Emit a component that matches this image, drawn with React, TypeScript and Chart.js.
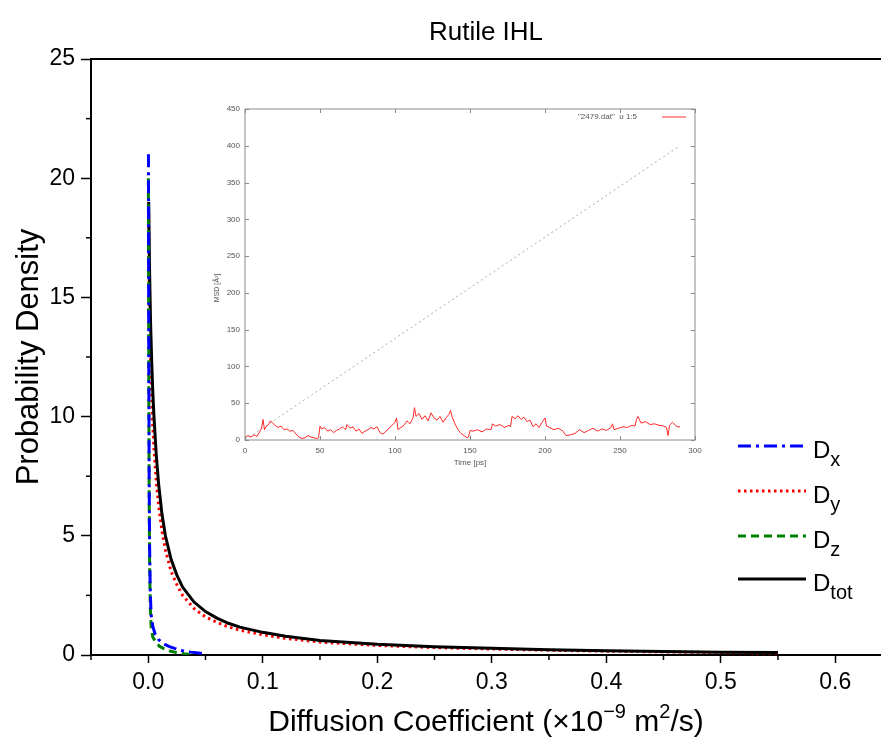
import { useEffect, useRef } from 'react';
import { Chart, registerables } from 'chart.js';
Chart.register(...registerables);

const FONT = '"Liberation Sans", Arial, Helvetica, sans-serif';

// ---- Main chart data (probability density vs diffusion coefficient) ----
const dxX = [0.0002, 0.0003, 0.0005, 0.0008, 0.0012, 0.0018, 0.0025, 0.004, 0.006, 0.009, 0.013, 0.018, 0.023, 0.03, 0.037, 0.044, 0.05];
const dxY = [21.0, 17.0, 12.0, 7.5, 4.5, 2.6, 1.7, 1.2, 0.88, 0.65, 0.48, 0.36, 0.28, 0.18, 0.12, 0.08, 0.05];

const dyX = [0.0004, 0.001, 0.002, 0.003, 0.004, 0.005, 0.007, 0.009, 0.012, 0.015, 0.02, 0.025, 0.03, 0.04, 0.05, 0.06, 0.07, 0.08, 0.1, 0.12, 0.15, 0.2, 0.25, 0.3, 0.35, 0.4, 0.45, 0.5, 0.55];
const dyY = [18.5, 15.0, 12.5, 10.8, 9.6, 8.7, 7.3, 6.3, 5.2, 4.4, 3.5, 2.95, 2.5, 1.95, 1.6, 1.37, 1.18, 1.04, 0.85, 0.7, 0.54, 0.4, 0.31, 0.25, 0.2, 0.16, 0.13, 0.1, 0.08];

const dzX = [0.0001, 0.0003, 0.0005, 0.0008, 0.0012, 0.0018, 0.0025, 0.004, 0.007, 0.01, 0.014, 0.019, 0.025, 0.031, 0.037];
const dzY = [20.0, 16.0, 11.0, 6.5, 3.8, 2.0, 1.2, 0.75, 0.5, 0.36, 0.26, 0.17, 0.1, 0.05, 0.02];

const dtotX = [0.0004, 0.001, 0.002, 0.003, 0.004, 0.005, 0.007, 0.009, 0.012, 0.015, 0.02, 0.025, 0.03, 0.04, 0.05, 0.06, 0.07, 0.08, 0.1, 0.12, 0.15, 0.2, 0.25, 0.3, 0.35, 0.4, 0.45, 0.5, 0.55];
const dtotY = [19.0, 16.5, 14.0, 12.3, 11.0, 10.0, 8.4, 7.2, 5.9, 5.0, 4.0, 3.35, 2.85, 2.22, 1.82, 1.55, 1.33, 1.17, 0.95, 0.79, 0.61, 0.45, 0.35, 0.28, 0.22, 0.18, 0.15, 0.12, 0.1];

const xMajorTicks = [0, 0.1, 0.2, 0.3, 0.4, 0.5, 0.6];
const xMinorTicks = [-0.05, 0.05, 0.15, 0.25, 0.35, 0.45, 0.55];
const yMajorTicks = [0, 5, 10, 15, 20, 25];
const yMinorTicks = [2.5, 7.5, 12.5, 17.5, 22.5];
const legendSubs = ['x', 'y', 'z', 'tot'];

// ---- Inset data (MSD vs time) ----
const msdTime = [
  0, 2, 4, 6, 8, 10, 11, 12, 13, 14,
  16, 17, 18, 20, 22, 24, 26, 28, 30, 32,
  34, 36, 38, 40, 42, 44, 46, 48, 49, 50,
  51, 53, 55, 57, 59, 61, 63, 65, 67, 68,
  70, 72, 74, 76, 78, 80, 82, 84, 86, 88,
  90, 92, 94, 96, 98, 100, 101, 102, 104, 106,
  108, 110, 112, 113, 114, 116, 118, 120, 122, 124,
  126, 128, 130, 132, 134, 136, 137, 138, 140, 142,
  144, 146, 148, 149, 150, 152, 155, 158, 161, 164,
  165, 167, 170, 173, 176, 177, 178, 180, 182, 184,
  186, 188, 190, 192, 194, 196, 198, 200, 201, 203,
  206, 209, 212, 214, 217, 220, 223, 226, 229, 232,
  235, 238, 241, 244, 245, 246, 249, 252, 255, 258,
  260, 261, 262, 264, 267, 270, 273, 276, 279, 281,
  282, 283, 285, 286, 288, 290,
];
const msdValue = [
  3, 6, 4, 7, 5, 12, 16, 28, 14, 18,
  22, 26, 24, 20, 17, 19, 14, 15, 12, 13,
  8, 4, 2, 3, 6, 4, 3, 2, 3, 19,
  15, 17, 12, 14, 10, 13, 15, 18, 14, 21,
  16, 18, 12, 15, 9, 12, 14, 17, 15, 18,
  10, 8, 12, 16, 20, 24, 30, 14, 17, 20,
  26, 22, 30, 44, 32, 36, 28, 33, 26, 37,
  30, 27, 32, 24, 30, 35, 40, 32, 22, 14,
  9, 6, 3, 4, 13, 12, 14, 11, 15, 14,
  22, 19, 21, 17, 20, 18, 32, 29, 33, 28,
  31, 25, 27, 18, 22, 17, 24, 30, 19, 17,
  14, 16, 12, 6, 7, 9, 14, 10, 13, 16,
  12, 15, 13, 17, 22, 14, 16, 18, 17, 20,
  19, 28, 32, 23, 25, 21, 22, 20, 19, 17,
  6, 20, 24, 22, 18, 18,
];
const guideTime = [0, 290];
const guideValue = [0, 400];
const insetXTicks = [0, 50, 100, 150, 200, 250, 300];
const insetYTicks = [0, 50, 100, 150, 200, 250, 300, 350, 400, 450];

const toPts = (xs: number[], ys: number[]) => xs.map((x, i) => ({ x, y: ys[i] }));

export default function App() {
  const mainRef = useRef<HTMLCanvasElement>(null);
  const insetRef = useRef<HTMLCanvasElement>(null);

  useEffect(() => {
    const mainDecor = {
      id: 'mainDecor',
      afterDraw(chart: any) {
        const ctx = chart.ctx;
        const ca = chart.chartArea;
        const xs = chart.scales.x;
        const ys = chart.scales.y;
        ctx.save();
        // top border
        ctx.strokeStyle = '#000';
        ctx.lineWidth = 2;
        ctx.beginPath();
        ctx.moveTo(ca.left - 1, ca.top);
        ctx.lineTo(ca.right, ca.top);
        ctx.stroke();
        // minor ticks
        ctx.lineWidth = 1.5;
        xMinorTicks.forEach((v) => {
          const px = xs.getPixelForValue(v);
          ctx.beginPath();
          ctx.moveTo(px, ca.bottom);
          ctx.lineTo(px, ca.bottom + 5);
          ctx.stroke();
        });
        yMinorTicks.forEach((v) => {
          const py = ys.getPixelForValue(v);
          ctx.beginPath();
          ctx.moveTo(ca.left, py);
          ctx.lineTo(ca.left - 5, py);
          ctx.stroke();
        });
        // title
        ctx.fillStyle = '#000';
        ctx.textAlign = 'center';
        ctx.textBaseline = 'alphabetic';
        ctx.font = `26px ${FONT}`;
        ctx.fillText('Rutile IHL', (ca.left + ca.right) / 2, 40);
        // x axis title with superscripts
        const big = `30px ${FONT}`;
        const sup = `20px ${FONT}`;
        const parts: [string, string, number][] = [
          ['Diffusion Coefficient (\u00d710', big, 0],
          ['\u22129', sup, -13],
          [' m', big, 0],
          ['2', sup, -13],
          ['/s)', big, 0],
        ];
        let total = 0;
        parts.forEach(([t, f]) => { ctx.font = f; total += ctx.measureText(t).width; });
        let cx = (ca.left + ca.right) / 2 - total / 2;
        ctx.textAlign = 'left';
        parts.forEach(([t, f, dy]) => {
          ctx.font = f;
          ctx.fillText(t, cx, 731 + dy);
          cx += ctx.measureText(t).width;
        });
        // y axis title
        ctx.save();
        ctx.translate(38, (ca.top + ca.bottom) / 2);
        ctx.rotate(-Math.PI / 2);
        ctx.textAlign = 'center';
        ctx.font = `31px ${FONT}`;
        ctx.fillText('Probability Density', 0, 0);
        ctx.restore();
        // legend
        const rows = [446, 491, 536, 579];
        const ds = chart.data.datasets;
        rows.forEach((ry, i) => {
          const d = ds[i];
          ctx.save();
          ctx.strokeStyle = d.borderColor;
          ctx.lineWidth = d.borderWidth;
          ctx.setLineDash(d.borderDash || []);
          ctx.beginPath();
          ctx.moveTo(738, ry);
          ctx.lineTo(806, ry);
          ctx.stroke();
          ctx.restore();
          ctx.fillStyle = '#000';
          ctx.textAlign = 'left';
          ctx.font = `24px ${FONT}`;
          ctx.fillText('D', 813, ry + 12);
          const w = ctx.measureText('D').width;
          ctx.font = `20px ${FONT}`;
          ctx.fillText(legendSubs[i], 813 + w, ry + 20);
        });
        ctx.restore();
      },
    };

    const main = new Chart(mainRef.current!, {
      type: 'scatter',
      data: {
        datasets: [
          { label: 'Dx', data: toPts(dxX, dxY), showLine: true, borderColor: '#0000ff', borderWidth: 3, borderDash: [13, 5, 3, 5], pointRadius: 0, order: 0 },
          { label: 'Dy', data: toPts(dyX, dyY), showLine: true, borderColor: '#ff0000', borderWidth: 3, borderDash: [2.5, 3.5], pointRadius: 0, order: 3 },
          { label: 'Dz', data: toPts(dzX, dzY), showLine: true, borderColor: '#008000', borderWidth: 3, borderDash: [8, 5], pointRadius: 0, order: 1 },
          { label: 'Dtot', data: toPts(dtotX, dtotY), showLine: true, borderColor: '#000000', borderWidth: 3, pointRadius: 0, order: 2 },
        ],
      },
      options: {
        responsive: false,
        animation: false,
        layout: { padding: { top: 59, left: 0, right: 0, bottom: 0 } },
        plugins: { legend: { display: false }, tooltip: { enabled: false }, title: { display: false } },
        scales: {
          x: {
            type: 'linear',
            min: -0.05,
            max: 0.64,
            afterBuildTicks: (s: any) => { s.ticks = xMajorTicks.map((v) => ({ value: v })); },
            afterFit: (s: any) => { s.height = 87; },
            grid: { display: true, drawOnChartArea: false, drawTicks: true, tickLength: 8, tickColor: '#000', tickWidth: 1.5 },
            border: { display: true, color: '#000', width: 2 },
            ticks: { color: '#000', font: { family: FONT, size: 23 }, padding: 6, maxRotation: 0, autoSkip: false, callback: (v: any) => Number(v).toFixed(1) },
          },
          y: {
            type: 'linear',
            min: 0,
            max: 25,
            afterBuildTicks: (s: any) => { s.ticks = yMajorTicks.map((v) => ({ value: v })); },
            afterFit: (s: any) => { s.width = 91; },
            grid: { display: true, drawOnChartArea: false, drawTicks: true, tickLength: 10, tickColor: '#000', tickWidth: 1.5 },
            border: { display: true, color: '#000', width: 2 },
            ticks: { color: '#000', font: { family: FONT, size: 23 }, padding: 6, autoSkip: false, callback: (v: any) => String(v) },
          },
        },
      },
      plugins: [mainDecor],
    } as any);

    const insetDecor = {
      id: 'insetDecor',
      afterDraw(chart: any) {
        const ctx = chart.ctx;
        const ca = chart.chartArea;
        const xs = chart.scales.x;
        const ys = chart.scales.y;
        ctx.save();
        ctx.strokeStyle = '#8a8a8a';
        ctx.lineWidth = 1;
        ctx.strokeRect(ca.left, ca.top, ca.right - ca.left, ca.bottom - ca.top);
        insetXTicks.forEach((v) => {
          const px = Math.round(xs.getPixelForValue(v)) + 0.5;
          ctx.beginPath();
          ctx.moveTo(px, ca.bottom); ctx.lineTo(px, ca.bottom - 4);
          ctx.moveTo(px, ca.top); ctx.lineTo(px, ca.top + 4);
          ctx.stroke();
        });
        insetYTicks.forEach((v) => {
          const py = Math.round(ys.getPixelForValue(v)) + 0.5;
          ctx.beginPath();
          ctx.moveTo(ca.left, py); ctx.lineTo(ca.left + 4, py);
          ctx.moveTo(ca.right, py); ctx.lineTo(ca.right - 4, py);
          ctx.stroke();
        });
        ctx.fillStyle = '#555';
        ctx.font = `8px ${FONT}`;
        ctx.textAlign = 'center';
        ctx.textBaseline = 'middle';
        ctx.fillText('Time [ps]', (ca.left + ca.right) / 2, 368);
        ctx.save();
        ctx.translate(17, 193);
        ctx.rotate(-Math.PI / 2);
        ctx.font = `7px ${FONT}`;
        ctx.fillText('MSD [\u00c5\u00b2]', 0, 0);
        ctx.restore();
        ctx.textAlign = 'right';
        ctx.font = `8px ${FONT}`;
        ctx.fillText('"2479.dat"  u 1:5', 437, 22);
        ctx.strokeStyle = '#ff3030';
        ctx.beginPath();
        ctx.moveTo(462, 22); ctx.lineTo(486, 22);
        ctx.stroke();
        ctx.restore();
      },
    };

    const inset = new Chart(insetRef.current!, {
      type: 'scatter',
      data: {
        datasets: [
          { label: 'msd', data: toPts(msdTime, msdValue), showLine: true, borderColor: '#ff2a2a', borderWidth: 1, pointRadius: 0 },
          { label: 'guide', data: toPts(guideTime, guideValue), showLine: true, borderColor: '#aaaaaa', borderWidth: 1, borderDash: [2, 3], pointRadius: 0 },
        ],
      },
      options: {
        responsive: false,
        animation: false,
        layout: { padding: { top: 14, left: 0, right: 15, bottom: 0 } },
        plugins: { legend: { display: false }, tooltip: { enabled: false } },
        scales: {
          x: {
            type: 'linear', min: 0, max: 300,
            afterBuildTicks: (s: any) => { s.ticks = insetXTicks.map((v) => ({ value: v })); },
            afterFit: (s: any) => { s.height = 40; },
            grid: { display: false, drawTicks: false },
            border: { display: false },
            ticks: { color: '#555', font: { family: FONT, size: 8 }, padding: 6, maxRotation: 0, autoSkip: false },
          },
          y: {
            type: 'linear', min: 0, max: 450,
            afterBuildTicks: (s: any) => { s.ticks = insetYTicks.map((v) => ({ value: v })); },
            afterFit: (s: any) => { s.width = 45; },
            grid: { display: false, drawTicks: false },
            border: { display: false },
            ticks: { color: '#555', font: { family: FONT, size: 8 }, padding: 5, autoSkip: false },
          },
        },
      },
      plugins: [insetDecor],
    } as any);

    return () => { main.destroy(); inset.destroy(); };
  }, []);

  return (
    <div style={{ position: 'fixed', left: 0, top: 0, width: 881, height: 742, background: '#fff', overflow: 'hidden' }}>
      <canvas ref={mainRef} width={881} height={742} style={{ position: 'absolute', left: 0, top: 0, width: 881, height: 742 }} />
      <canvas ref={insetRef} width={510} height={385} style={{ position: 'absolute', left: 200, top: 95, width: 510, height: 385 }} />
    </div>
  );
}
